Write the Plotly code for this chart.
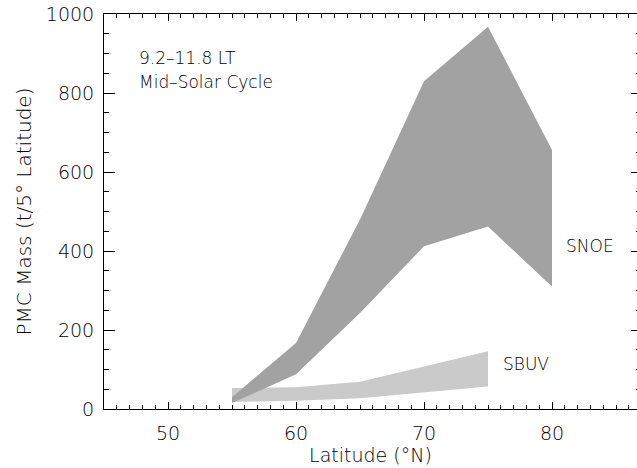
import plotly.graph_objects as go

# Data
lat_snoe = [55, 60, 65, 70, 75, 80]
snoe_upper = [30, 167, 480, 830, 968, 656]
snoe_lower = [15, 88, 243, 412, 462, 310]

lat_sbuv = [55, 60, 65, 70, 75]
sbuv_upper = [53, 55, 69, 107, 146]
sbuv_lower = [18, 21, 27, 42, 57]

x_ticks = [50, 60, 70, 80]
y_ticks = [0, 200, 400, 600, 800, 1000]

FONT = "DejaVu Sans"
TXT = "#000000"
AX = "#000000"
W = 200

fig = go.Figure()

# SBUV band (light)
fig.add_trace(go.Scatter(
    x=lat_sbuv + lat_sbuv[::-1],
    y=sbuv_upper + sbuv_lower[::-1],
    fill="toself", fillcolor="#cacaca",
    line=dict(width=0), mode="lines", hoverinfo="skip", showlegend=False,
))
# SNOE band (dark)
fig.add_trace(go.Scatter(
    x=lat_snoe + lat_snoe[::-1],
    y=snoe_upper + snoe_lower[::-1],
    fill="toself", fillcolor="#a2a2a2",
    line=dict(width=0), mode="lines", hoverinfo="skip", showlegend=False,
))

xr = [45, 45 + 533 / 12.8]
common_x = dict(range=xr, tickmode="array", tickvals=x_ticks, ticks="inside",
                ticklen=7, tickwidth=1, tickcolor=AX, showgrid=False, zeroline=False,
                minor=dict(dtick=1, tick0=0, ticks="inside", ticklen=4, tickwidth=1, tickcolor=AX))
common_y = dict(range=[0, 1000], tickmode="array", tickvals=y_ticks, showgrid=False,
                zeroline=False, tickcolor=AX, tickwidth=1)

def f(size):
    return dict(family=FONT, size=size, color=TXT, weight=W)

fig.update_layout(
    width=637, height=468,
    margin=dict(l=104, r=0, t=14, b=59),
    paper_bgcolor="white", plot_bgcolor="white",
    font=f(19),
    showlegend=False,
    xaxis=dict(**common_x, showline=True, linecolor=AX, linewidth=1, mirror=False,
               ticklabelstandoff=7,
               tickfont=f(19),
               title=dict(text="Latitude (°N)", font=f(19), standoff=4)),
    xaxis2=dict(**common_x, overlaying="x", side="top", showline=True, linecolor=AX,
                linewidth=1, showticklabels=False),
    yaxis=dict(**common_y, ticks="inside", ticklen=11, showline=True, linecolor=AX, linewidth=1,
               minor=dict(dtick=50, tick0=0, ticks="inside", ticklen=5, tickwidth=1, tickcolor=AX),
               ticklabelstandoff=5,
               tickfont=f(19),
               title=dict(text="PMC Mass (t/5° Latitude)", font=f(20), standoff=8)),
    yaxis2=dict(**common_y, overlaying="y", side="right", ticks="inside", ticklen=6,
                showline=False, showticklabels=False,
                minor=dict(dtick=50, tick0=0, ticks="inside", ticklen=1, tickwidth=1, tickcolor=AX)),
)

# dummy trace for secondary axes so they render
fig.add_trace(go.Scatter(x=[None], y=[None], xaxis="x2", yaxis="y2", showlegend=False, hoverinfo="skip"))

annots = [
    dict(text="9.2–11.8 LT", x=137, y=58, xanchor="left"),
    dict(text="Mid–Solar Cycle", x=137, y=82, xanchor="left"),
    dict(text="SNOE", x=590, y=246, xanchor="center"),
    dict(text="SBUV", x=526, y=364, xanchor="center"),
]
for a in annots:
    fig.add_annotation(text=a["text"], xref="paper", yref="paper",
                       x=(a["x"] - 104) / 533, y=(409 - a["y"]) / 395,
                       xanchor=a["xanchor"], yanchor="middle", showarrow=False,
                       font=f(17))

fig.write_html("out.html")
